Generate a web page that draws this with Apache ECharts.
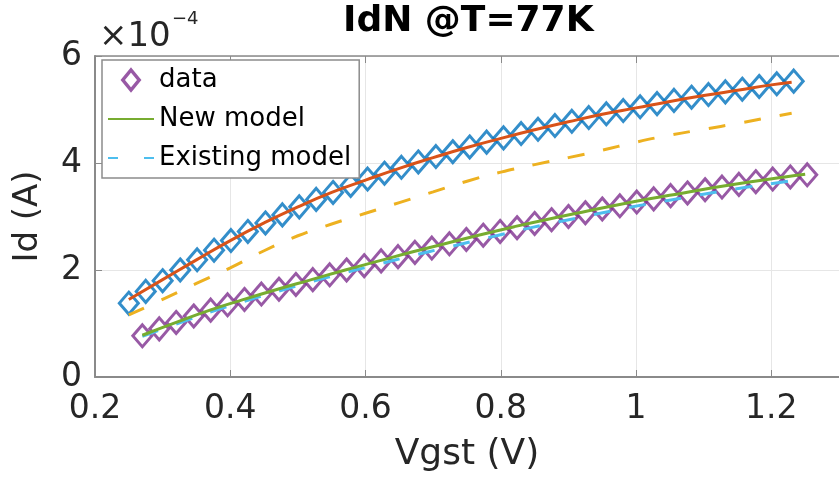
<!DOCTYPE html>
<html>
<head>
<meta charset="utf-8">
<script src="https://cdn.jsdelivr.net/npm/echarts@6/dist/echarts.min.js"></script>
<style>html,body{margin:0;background:#fff}#chart{width:839px;height:479px}</style>
</head>
<body>
<div id="chart"></div>
<script>
// measured points, upper set (blue diamonds)
var xUpper = [0.250, 0.275, 0.300, 0.326, 0.351, 0.376, 0.401, 0.426, 0.452, 0.477,
  0.502, 0.527, 0.552, 0.578, 0.603, 0.628, 0.653, 0.678, 0.704, 0.729,
  0.754, 0.779, 0.804, 0.830, 0.855, 0.880, 0.905, 0.930, 0.956, 0.981,
  1.006, 1.031, 1.056, 1.082, 1.107, 1.132, 1.157, 1.182, 1.208, 1.233];
var dataUpper = [1.38, 1.60, 1.80, 2.00, 2.19, 2.37, 2.55, 2.72, 2.88, 3.03,
  3.18, 3.32, 3.45, 3.58, 3.70, 3.81, 3.92, 4.02, 4.12, 4.21,
  4.30, 4.39, 4.47, 4.55, 4.63, 4.70, 4.78, 4.85, 4.92, 4.98,
  5.05, 5.11, 5.17, 5.23, 5.28, 5.33, 5.38, 5.43, 5.48, 5.53];

// measured points, lower set (purple diamonds)
var xLower = [0.270, 0.295, 0.320, 0.346, 0.371, 0.396, 0.421, 0.446, 0.472, 0.497,
  0.522, 0.547, 0.572, 0.598, 0.623, 0.648, 0.673, 0.698, 0.724, 0.749,
  0.774, 0.799, 0.824, 0.850, 0.875, 0.900, 0.925, 0.950, 0.976, 1.001,
  1.026, 1.051, 1.076, 1.102, 1.127, 1.152, 1.177, 1.202, 1.228, 1.253];
var dataLower = [0.77, 0.90, 1.02, 1.14, 1.25, 1.35, 1.45, 1.55, 1.64, 1.73,
  1.82, 1.91, 2.00, 2.08, 2.17, 2.25, 2.33, 2.41, 2.49, 2.57,
  2.65, 2.72, 2.79, 2.87, 2.94, 3.00, 3.07, 3.14, 3.20, 3.27,
  3.33, 3.39, 3.44, 3.50, 3.55, 3.60, 3.65, 3.70, 3.74, 3.78];

// model curves
var xModelUpper = [0.25, 0.30, 0.35, 0.40, 0.45, 0.50, 0.55, 0.60, 0.65, 0.70, 0.75,
  0.80, 0.85, 0.90, 0.95, 1.00, 1.05, 1.10, 1.15, 1.20, 1.23];
var newUpper = [1.45, 1.82, 2.19, 2.55, 2.88, 3.18, 3.45, 3.68, 3.90, 4.10, 4.29,
  4.46, 4.62, 4.77, 4.91, 5.03, 5.15, 5.26, 5.36, 5.46, 5.51];
var oldUpper = [1.16, 1.45, 1.75, 2.04, 2.36, 2.64, 2.86, 3.06, 3.26, 3.46, 3.66,
  3.83, 3.97, 4.10, 4.24, 4.39, 4.52, 4.63, 4.74, 4.86, 4.93];

var xModelLower = [0.27, 0.32, 0.37, 0.42, 0.47, 0.52, 0.57, 0.62, 0.67, 0.72, 0.77,
  0.82, 0.87, 0.92, 0.97, 1.02, 1.07, 1.12, 1.17, 1.22, 1.25];
var newLower = [0.78, 1.02, 1.25, 1.45, 1.64, 1.82, 2.00, 2.17, 2.34, 2.50, 2.66,
  2.81, 2.95, 3.08, 3.21, 3.33, 3.44, 3.55, 3.65, 3.74, 3.79];
var oldLower = [0.76, 0.99, 1.21, 1.41, 1.60, 1.78, 1.95, 2.11, 2.27, 2.42, 2.57,
  2.72, 2.86, 2.99, 3.12, 3.24, 3.35, 3.46, 3.56, 3.65, 3.70];

function pairs(xs, ys) {
  return xs.map(function (x, i) { return [x, ys[i]]; });
}

var font = 'DejaVu Sans';
var axisGray = '#8a8a8a';
// diamond for the legend, drawn as a path so it keeps its aspect
var diamondIcon = 'path://M10,0L19,11L10,22L1,11Z';

var myChart = echarts.init(document.getElementById('chart'));

var option = {
  backgroundColor: '#fff',
  animation: false,
  grid: { left: 95, top: 56, width: 751, height: 321 },
  graphic: [
    { type: 'text', left: 468 - 125, top: 4,
      style: { text: 'IdN @T=77K', font: 'bold 36px "DejaVu Sans"', fill: '#000' } },
    { type: 'text', left: 99, top: 20,
      style: { text: '×10', font: '34px "DejaVu Sans"', fill: '#262626' } },
    { type: 'text', left: 172, top: 10,
      style: { text: '−4', font: '18px "DejaVu Sans"', fill: '#262626' } }
  ],
  legend: {
    data: [
      { name: 'data', icon: diamondIcon, itemStyle: { borderWidth: 3.5 } },
      { name: 'New model', itemStyle: { opacity: 0 } },
      { name: 'Existing model', itemStyle: { opacity: 0 }, lineStyle: { type: [10, 26] } }
    ],
    orient: 'vertical',
    left: 102,
    top: 60,
    itemWidth: 46,
    itemHeight: 20,
    itemGap: 13,
    symbolKeepAspect: true,
    padding: [7, 8, 7, 5],
    backgroundColor: '#fff',
    borderColor: '#8c8c8c',
    borderWidth: 1.5,
    borderRadius: 0,
    textStyle: { fontFamily: font, fontSize: 26, color: '#000', lineHeight: 26 }
  },
  xAxis: [{
    type: 'value',
    min: 0.2, max: 1.3, interval: 0.2,
    name: 'Vgst (V)',
    nameLocation: 'middle',
    nameGap: 60,
    nameTextStyle: { fontFamily: font, fontSize: 36, color: '#262626' },
    axisLine: { lineStyle: { color: axisGray, width: 2 } },
    axisTick: { inside: true, length: 7, lineStyle: { color: axisGray } },
    axisLabel: { fontFamily: font, fontSize: 33, color: '#262626', margin: 16, showMaxLabel: false },
    splitLine: { lineStyle: { color: '#e6e6e6', width: 1 } }
  }, {
    type: 'value',
    position: 'top',
    min: 0.2, max: 1.3, interval: 0.2,
    axisLine: { show: true, lineStyle: { color: axisGray, width: 1.5 } },
    axisTick: { show: true, inside: true, length: 7, lineStyle: { color: axisGray } },
    axisLabel: { show: false },
    splitLine: { show: false }
  }],
  yAxis: {
    type: 'value',
    min: 0, max: 6, interval: 2,
    name: 'Id (A)',
    nameLocation: 'middle',
    nameGap: 50,
    nameRotate: 90,
    nameTextStyle: { fontFamily: font, fontSize: 34, color: '#262626' },
    axisLine: { show: true, lineStyle: { color: axisGray, width: 2 } },
    axisTick: { show: true, inside: true, length: 7, lineStyle: { color: axisGray } },
    axisLabel: { fontFamily: font, fontSize: 33, color: '#262626', margin: 13 },
    splitLine: { lineStyle: { color: '#e6e6e6', width: 1 } }
  },
  series: [
    {
      name: 'data upper', type: 'scatter', symbol: 'diamond', symbolSize: [19, 22],
      data: pairs(xUpper, dataUpper),
      itemStyle: { color: 'rgba(0,0,0,0)', borderColor: '#0072BD', borderWidth: 3 }
    },
    {
      name: 'new upper', type: 'line', symbol: 'none', smooth: true,
      data: pairs(xModelUpper, newUpper),
      lineStyle: { color: '#D95319', width: 3 }
    },
    {
      name: 'existing upper', type: 'line', symbol: 'none', smooth: true,
      data: pairs(xModelUpper, oldUpper),
      lineStyle: { color: '#EDB120', width: 3, type: [17, 19] }
    },
    {
      name: 'data', type: 'scatter', symbol: 'diamond', symbolSize: [19, 22],
      data: pairs(xLower, dataLower),
      itemStyle: { color: 'rgba(0,0,0,0)', borderColor: '#7E2F8E', borderWidth: 3 }
    },
    {
      name: 'Existing model', type: 'line', symbol: 'none', smooth: true,
      data: pairs(xModelLower, oldLower),
      color: '#4DBEEE',
      lineStyle: { color: '#4DBEEE', width: 3, type: [17, 19] }
    },
    {
      name: 'New model', type: 'line', symbol: 'none', smooth: true,
      data: pairs(xModelLower, newLower),
      color: '#77AC30',
      lineStyle: { color: '#77AC30', width: 3 }
    }
  ]
};

myChart.setOption(option);
</script>
</body>
</html>
